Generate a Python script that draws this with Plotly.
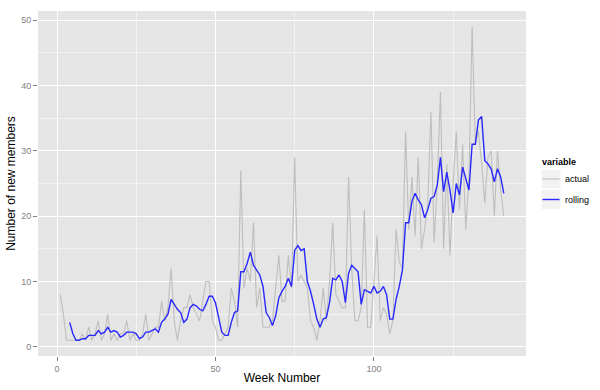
import plotly.graph_objects as go

# ---- data ----
weeks = list(range(1, 142))
actual = [
    8, 5, 1, 1, 1, 1, 1, 2, 1, 3,
    1, 2, 4, 1, 2, 5, 1, 2, 1, 2,
    2, 4, 1, 2, 1, 1, 2, 5, 1, 2,
    3, 3, 7, 4, 6, 12, 4, 1, 4, 6,
    6, 8, 6, 5, 4, 7, 10, 10, 4, 3,
    1, 1, 2, 3, 9, 7, 3, 27, 9, 12,
    10, 19, 6, 9, 3, 3, 3, 4, 9, 14,
    7, 7, 14, 9, 29, 10, 11, 10, 9, 4,
    3, 1, 4, 9, 4, 10, 19, 8, 7, 6,
    6, 26, 12, 4, 4, 6, 21, 3, 3, 10,
    17, 4, 6, 5, 2, 4, 18, 13, 12, 33,
    18, 26, 17, 29, 15, 18, 22, 36, 16, 25,
    39, 15, 28, 14, 25, 33, 21, 31, 18, 26,
    49, 31, 33, 28, 22, 29, 30, 20, 30, 24, 20,
]
window = 4  # rolling mean window (weeks)
rolling = [None if i < window - 1 else sum(actual[i - window + 1:i + 1]) / window
           for i in range(len(actual))]

x_ticks = [0, 50, 100]
y_ticks = [0, 10, 20, 30, 40, 50]
series_names = ["actual", "rolling"]
legend_title = "variable"

# ---- styling ----
W, H = 600, 390
ML, MR, MT, MB = 38, 74, 11, 34
PW, PH = W - ML - MR, H - MT - MB
FONT = "Liberation Sans, Arial, sans-serif"
GREY_LINE = "rgb(190,190,190)"
BLUE = "rgb(40,40,255)"

fig = go.Figure()
fig.add_trace(go.Scatter(x=weeks, y=actual, mode="lines", name=series_names[0],
                         line=dict(color=GREY_LINE, width=1.1), showlegend=False))
fig.add_trace(go.Scatter(x=weeks, y=rolling, mode="lines", name=series_names[1],
                         line=dict(color=BLUE, width=1.4), showlegend=False))

xmin, xmax = min(weeks), max(weeks)
xpad = 0.05 * (xmax - xmin)
ymin, ymax = min(actual), max(actual)
ypad = 0.05 * (ymax - ymin)

axis_common = dict(
    showline=False, zeroline=False,
    gridcolor="white", gridwidth=1.2,
    ticks="outside", ticklen=4, tickwidth=1, tickcolor="#7F7F7F",
    tickfont=dict(family=FONT, size=9, color="#7F7F7F"),
)
fig.update_xaxes(
    range=[xmin - xpad, xmax + xpad], tickvals=x_ticks,
    minor=dict(dtick=25, tick0=0, showgrid=True, gridcolor="#F2F2F2", gridwidth=0.6),
    title=dict(text="Week Number", font=dict(family=FONT, size=12, color="black"), standoff=0),
    **axis_common,
)
fig.update_yaxes(
    range=[ymin - ypad, ymax + ypad], tickvals=y_ticks,
    minor=dict(dtick=5, tick0=0, showgrid=True, gridcolor="#F2F2F2", gridwidth=0.6),
    title=dict(text="Number of new members", font=dict(family=FONT, size=12, color="black"), standoff=2),
    **axis_common,
)

# ---- legend (ggplot-style keys) ----
def px_x(px):
    return (px - ML) / PW

def px_y(py):
    return (H - MB - py) / PH

shapes = []
annotations = [dict(x=px_x(540), y=px_y(162), xref="paper", yref="paper",
                    text="<b>" + legend_title + "</b>", showarrow=False,
                    xanchor="left", yanchor="middle",
                    font=dict(family=FONT, size=9, color="black"))]
key_colors = [GREY_LINE, BLUE]
key_widths = [1.1, 1.4]
for i, name in enumerate(series_names):
    top = 169 + i * 20.5
    shapes.append(dict(type="rect", xref="paper", yref="paper",
                       x0=px_x(541), x1=px_x(561), y0=px_y(top), y1=px_y(top + 20),
                       fillcolor="#F2F2F2", line=dict(color="white", width=1)))
    shapes.append(dict(type="line", xref="paper", yref="paper",
                       x0=px_x(542.5), x1=px_x(559.5), y0=px_y(top + 10), y1=px_y(top + 10),
                       line=dict(color=key_colors[i], width=key_widths[i])))
    annotations.append(dict(x=px_x(563), y=px_y(top + 10), xref="paper", yref="paper",
                            text=name, showarrow=False, xanchor="left", yanchor="middle",
                            font=dict(family=FONT, size=9, color="black")))

fig.update_layout(
    width=W, height=H,
    margin=dict(l=ML, r=MR, t=MT, b=MB, autoexpand=False),
    paper_bgcolor="white", plot_bgcolor="#E5E5E5",
    font=dict(family=FONT),
    shapes=shapes, annotations=annotations,
    showlegend=False,
)

fig.write_html("out.html")
